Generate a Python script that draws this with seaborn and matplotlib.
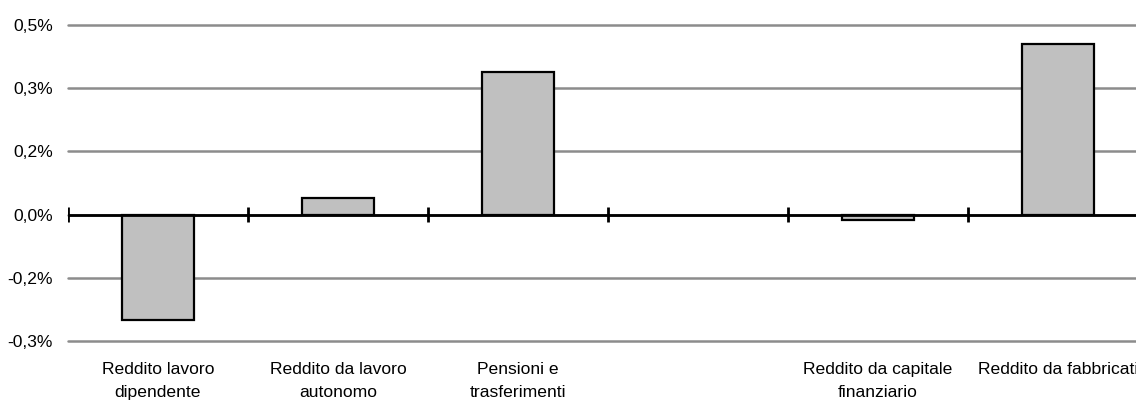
import matplotlib
matplotlib.use("Agg")
import matplotlib.pyplot as plt
import seaborn as sns
import pandas as pd

# Contributions by income source (percent)
categories = [
    "Reddito lavoro\ndipendente",
    "Reddito da lavoro\nautonomo",
    "Pensioni e\ntrasferimenti",
    " ",
    "Reddito da capitale\nfinanziario",
    "Reddito da fabbricati",
]
values = [-0.249, 0.040, 0.339, None, -0.014, 0.406]

y_ticks = [-0.30, -0.15, 0.0, 0.15, 0.30, 0.45]
y_tick_labels = ["-0,3%", "-0,2%", "0,0%", "0,2%", "0,3%", "0,5%"]

df = pd.DataFrame({"fonte": categories, "valore": values}).dropna()

sns.set_theme(style="white")
plt.rcParams["font.family"] = ["Liberation Sans", "DejaVu Sans"]

fig = plt.figure(figsize=(11.36, 4.08), dpi=100)
ax = fig.add_axes([68 / 1136, 67 / 408, 1080 / 1136, 316 / 408])

sns.barplot(
    data=df, x="fonte", y="valore", order=categories,
    color="#c0c0c0", saturation=1, width=0.4,
    edgecolor="black", linewidth=1.6, ax=ax, zorder=3,
)

ax.set_ylim(y_ticks[0], y_ticks[-1])
ax.set_xlim(-0.5, len(categories) - 0.5)
ax.set_yticks(y_ticks)
ax.set_yticklabels(y_tick_labels)
ax.yaxis.grid(True, color="#8c8c8c", linewidth=1.8, zorder=0)
for gl in ax.get_ygridlines():
    gl.set_clip_on(False)
ax.set_axisbelow(True)

# zero axis with category separator ticks
ax.axhline(0, color="black", linewidth=2, zorder=4)
bounds = [i - 0.5 for i in range(len(categories) + 1)]
ax.vlines(bounds, -0.017, 0.017, color="black", linewidth=2, zorder=4)

for side in ["top", "right", "left", "bottom"]:
    ax.spines[side].set_visible(False)

ax.tick_params(axis="y", length=0, pad=11, labelsize=12.6, labelcolor="black")
ax.tick_params(axis="x", length=0, pad=15, labelsize=12.6, labelcolor="black")
for lbl in ax.get_xticklabels():
    lbl.set_linespacing(1.65)
ax.set_xlabel("")
ax.set_ylabel("")

fig.savefig("out.png", dpi=100)
